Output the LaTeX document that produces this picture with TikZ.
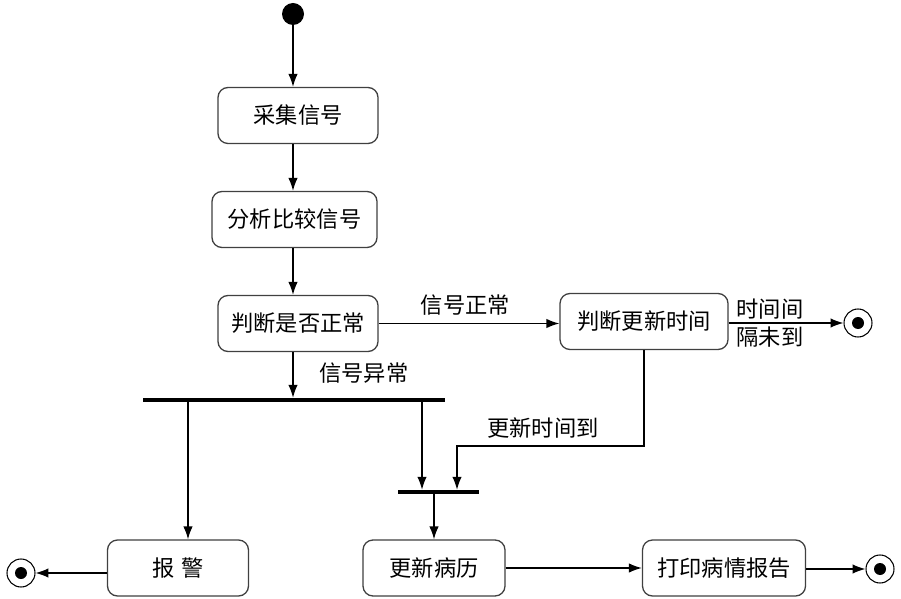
\documentclass[tikz,border=0pt]{standalone}
\usepackage{fontspec}
\setmainfont{Noto Sans CJK SC}
\usetikzlibrary{arrows.meta,positioning,calc}
\tikzset{>={Latex[length=11pt,width=8pt]}}
\tikzset{
  act/.style={draw=black!75,line width=1.1pt,rounded corners=0.3cm,minimum height=1.68cm,
    font=\fontsize{19}{23}\selectfont},
  lbl/.style={font=\fontsize{19}{23}\selectfont,inner sep=2pt},
  bar/.style={fill=black,inner sep=0pt,minimum height=0.12cm},
  initial/.style={circle,fill=black,inner sep=0pt,minimum size=0.66cm},
  final/.style={circle,draw,line width=0.9pt,inner sep=0pt,minimum size=0.84cm,
    path picture={\fill (path picture bounding box.center) circle (0.18cm);}},
  flow/.style={->,line width=1.1pt}
}

\begin{document}
\begin{tikzpicture}[x=0.03cm,y=-0.03cm]

        \fill[white] (0,0) rectangle (901,599);
        \useasboundingbox (0,0) rectangle (901,599);

        % nodes
        \node [initial] (start) at (293,14) {};
        \node [act,minimum width=4.8cm] (collect) at (298,115.5) {采集信号};
        \node [act,minimum width=4.95cm] (analyse) at (294.5,219.5) {分析比较信号};
        \node [act,minimum width=4.8cm] (judge) at (298,323.5) {判断是否正常};
        \node [act,minimum width=5.04cm] (update) at (644,321.5) {判断更新时间};
        \node [final] (endA) at (858,323) {};

        \node [bar,minimum width=9.06cm] (fork) at (294,400) {};
        \node [bar,minimum width=2.43cm] (join) at (438.5,492) {};

        \node [act,minimum width=4.23cm] (alarm) at (178,568) {报\,\,警};
        \node [act,minimum width=4.26cm] (record) at (434,568) {更新病历};
        \node [act,minimum width=4.89cm] (print) at (724,568) {打印病情报告};
        \node [final] (endB) at (21,573) {};
        \node [final] (endC) at (880,569) {};

        \coordinate (forkL) at (188,400);
        \coordinate (forkR) at (422,400);
        \coordinate (bend) at (457,446);

        % arrows
        \draw [flow] (start) -- (start |- collect.north);
        \draw [flow] (start |- collect.south) -- (start |- analyse.north);
        \draw [flow] (start |- analyse.south) -- (start |- judge.north);
        \draw [flow] (start |- judge.south) -- (start |- fork.north)
            node [lbl,pos=0.45,right=20pt] {信号异常};
        \draw [flow] (judge.east) -- (update.west |- judge.east)
            node [lbl,pos=0.48,above=4pt] {信号正常};
        \draw [flow] (update.east |- endA) -- (endA.west)
            node [lbl,pos=0.36,above=1pt] {时间间}
            node [lbl,pos=0.36,below=1pt] {隔未到};

        \draw [flow] (forkL) -- (forkL |- alarm.north);
        \draw [flow] (forkR) -- (forkR |- join.north);
        \draw [flow] (update.south) |- (bend)
            node [lbl,pos=0.77,above=4pt] {更新时间到}
            -- (bend |- join.north);
        \draw [flow] (record.north |- join.south) -- (record.north);

        \draw [flow] (alarm.west |- endB) -- (endB.east);
        \draw [flow] (record.east) -- (print.west |- record.east);
        \draw [flow] (print.east |- endC) -- (endC.west);

    \end{tikzpicture}
\end{document}
